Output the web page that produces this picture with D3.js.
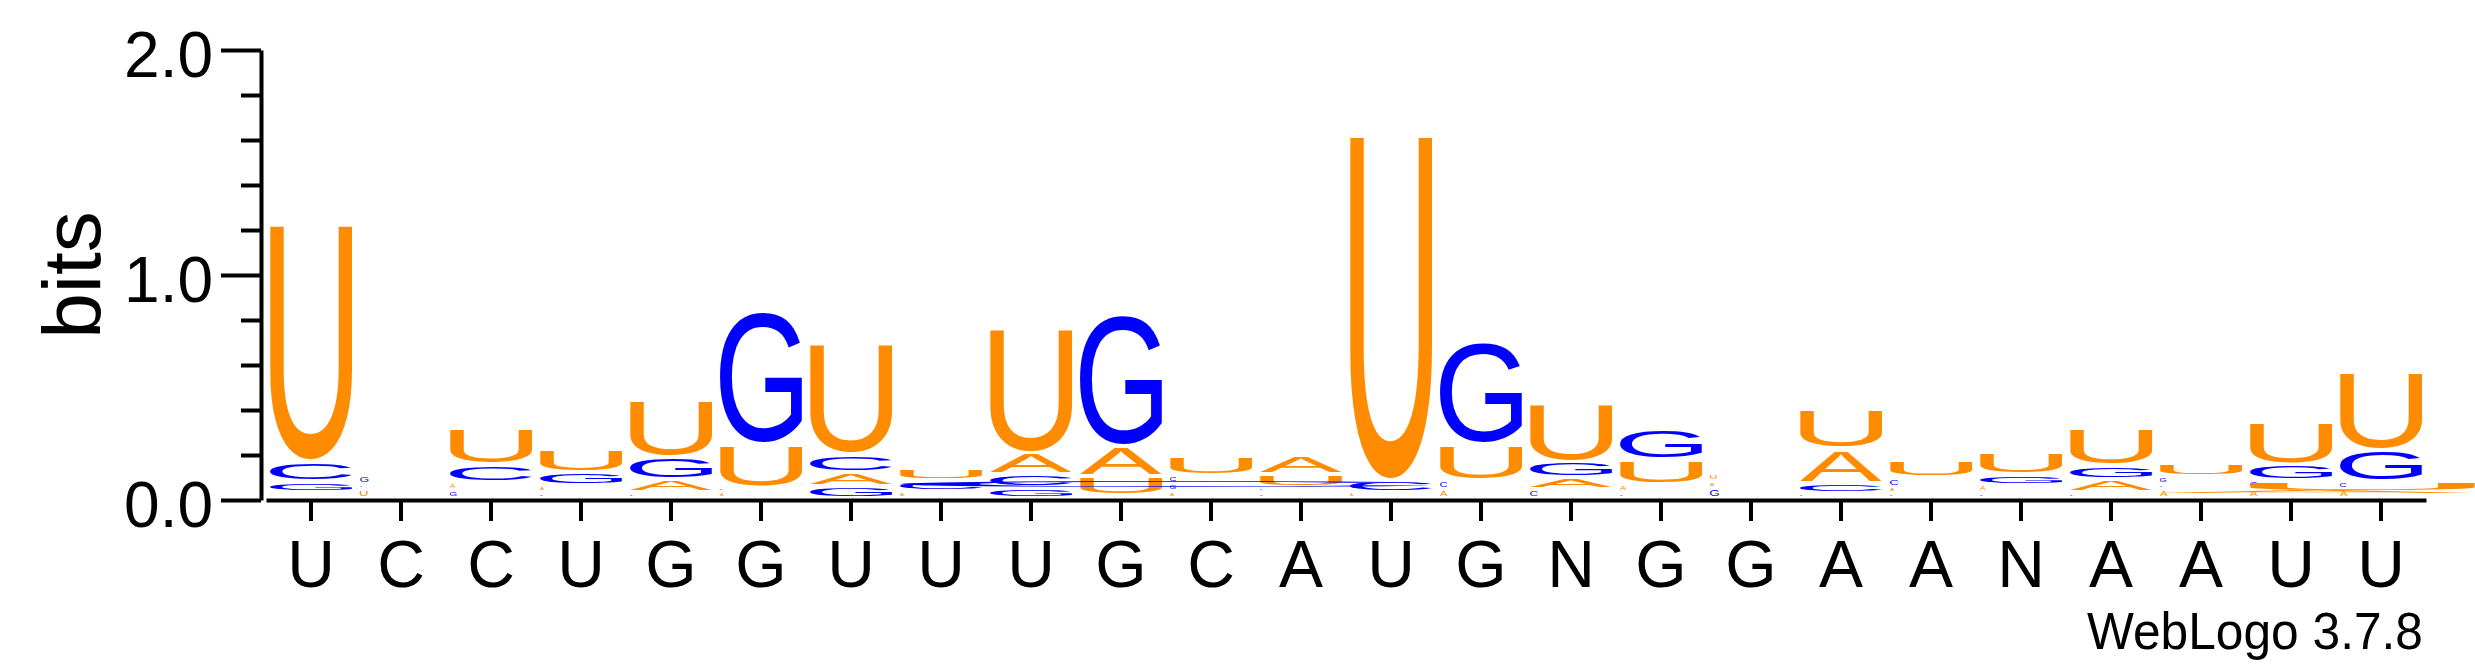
<!DOCTYPE html>
<html>
<head>
<meta charset="utf-8">
<script src="https://cdn.jsdelivr.net/npm/d3@7"></script>
<style>
  body { margin: 0; background: #fff; }
  text { font-family: "Liberation Sans", Arial, Helvetica, sans-serif; }
</style>
</head>
<body>
<div id="chart"></div>
<script>
// Consensus letters under each column
const consensus = ["U","C","C","U","G","G","U","U","U","G","C","A","U","G","N","G","G","A","A","N","A","A","U","U"];

// Letters in each stack, bottom to top
const stackLetters = [
  "AGCU", "UCG", "GACU", "CAGU", "CAGU", "ACUG", "GACU", "ACU",
  "GCAU", "CUAG", "AGCU", "GCUA", "ACU", "ACUG", "CAGU", "CAUG",
  "GAU", "GCAU", "GACU", "CAGU", "CAGU", "ACGU", "ACGU", "ACGU"
];

// Height of each letter in bits, same order as stackLetters
const stackBits = [
  [0.025, 0.049, 0.089, 1.055],
  [0.040, 0.022, 0.042],
  [0.037, 0.033, 0.078, 0.163],
  [0.025, 0.030, 0.059, 0.105],
  [0.025, 0.059, 0.098, 0.252],
  [0.028, 0.020, 0.193, 0.592],
  [0.052, 0.064, 0.076, 0.493],
  [0.030, 0.049, 0.054],
  [0.048, 0.059, 0.096, 0.554],
  [0.012, 0.087, 0.131, 0.588],
  [0.030, 0.035, 0.036, 0.087],
  [0.025, 0.024, 0.055, 0.084],
  [0.027, 0.052, 1.534],
  [0.040, 0.039, 0.158, 0.458],
  [0.040, 0.052, 0.071, 0.259],
  [0.025, 0.036, 0.109, 0.134],
  [0.044, 0.030, 0.037],
  [0.020, 0.047, 0.151, 0.172],
  [0.020, 0.030, 0.043, 0.077],
  [0.025, 0.034, 0.048, 0.097],
  [0.025, 0.059, 0.060, 0.167],
  [0.040, 0.020, 0.036, 0.060],
  [0.040, 0.039, 0.069, 0.193],
  [0.040, 0.036, 0.139, 0.344]
];

// Over-stretched tiny glyphs that run across several columns
const streakLetters = ["C", "A", "U"];
const streakFrom = [7.04, 21.0, 22.04];   // column units
const streakTo = [12.94, 24.54, 24.54];
const streakLow = [0.058, 0.031, 0.044];  // bits
const streakHigh = [0.084, 0.044, 0.076];

const yMajor = [0, 1, 2];
const yMinor = [0.2, 0.4, 0.6, 0.8, 1.2, 1.4, 1.6, 1.8];

const colors = { A: "#ff8c00", U: "#ff8c00", C: "#0000ff", G: "#0000ff" };

const W = 2475, H = 667;
const FONT = '"Liberation Sans", Arial, Helvetica, sans-serif';

const svg = d3.select("#chart")
  .append("svg")
  .attr("width", W)
  .attr("height", H);

svg.append("rect").attr("width", W).attr("height", H).attr("fill", "#fff");

// scales
const x = d3.scaleBand()
  .domain(d3.range(consensus.length))
  .range([266, 2426])
  .padding(0);

const y = d3.scaleLinear()
  .domain([0, 2])
  .range([500, 50]);

const colW = x.bandwidth();

// ink box of each letter, measured on a canvas with the same font
const ctx = document.createElement("canvas").getContext("2d");
ctx.font = "200px " + FONT;
const inkCache = {};
function ink(ch) {
  if (!inkCache[ch]) {
    const m = ctx.measureText(ch);
    inkCache[ch] = { l: m.actualBoundingBoxLeft, r: m.actualBoundingBoxRight,
                     a: m.actualBoundingBoxAscent, d: m.actualBoundingBoxDescent };
  }
  return inkCache[ch];
}

const logo = svg.append("g").attr("class", "logo");

// stretch a letter so its ink fills the box
function glyph(ch, x0, x1, yTop, yBot) {
  const m = ink(ch);
  const sx = (x1 - x0) / (m.l + m.r);
  const sy = (yBot - yTop) / (m.a + m.d);
  logo.append("text")
    .attr("transform", `translate(${x0},${yTop}) scale(${sx},${sy}) translate(${m.l},${m.a})`)
    .attr("font-size", 200)
    .attr("fill", colors[ch])
    .text(ch);
}

const gap = 4;    // white space under each letter
const inset = 4;  // white space at each side of a column

stackBits.forEach((bits, i) => {
  let base = 0;
  const left = x(i);
  bits.forEach((b, k) => {
    const ch = stackLetters[i][k];
    const yTop = y(base + b);
    const yBot = y(base) - gap;
    const h = yBot - yTop;
    if (h > 6.5) {
      glyph(ch, left + inset, left + colW - inset, yTop, yBot);
    } else if (h > 0.4) {
      // tiny letters come out small at the left of the column
      glyph(ch, left + inset, left + inset + Math.max(2, h * 1.5), yTop, yBot);
    }
    base += b;
  });
});

streakLetters.forEach((ch, i) => {
  const x0 = x.range()[0] + streakFrom[i] * colW;
  const x1 = x.range()[0] + streakTo[i] * colW;
  glyph(ch, x0, x1, y(streakHigh[i]), y(streakLow[i]));
});

// y axis
const yAxis = svg.append("g")
  .attr("class", "y-axis")
  .attr("transform", "translate(261,0)")
  .call(d3.axisLeft(y).tickValues(yMajor).tickFormat(d3.format(".1f"))
    .tickSize(40).tickSizeOuter(0).tickPadding(8));

svg.append("g")
  .attr("class", "y-minor")
  .attr("transform", "translate(261,0)")
  .call(d3.axisLeft(y).tickValues(yMinor).tickFormat("").tickSize(20).tickSizeOuter(0))
  .select(".domain").remove();

// x axis
const xAxis = svg.append("g")
  .attr("class", "x-axis")
  .attr("transform", "translate(0,500)")
  .call(d3.axisBottom(x).tickFormat(i => consensus[i])
    .tickSize(21).tickSizeOuter(0).tickPadding(19));

svg.selectAll(".domain, .tick line")
  .attr("stroke", "#000")
  .attr("stroke-width", 4);

yAxis.selectAll(".tick text")
  .attr("font-size", 64)
  .attr("font-family", FONT)
  .attr("fill", "#000")
  .attr("dy", "0.41em");

xAxis.selectAll(".tick text")
  .attr("font-size", 66)
  .attr("font-family", FONT)
  .attr("fill", "#000");

svg.append("text")
  .attr("transform", "translate(100,275) rotate(-90)")
  .attr("text-anchor", "middle")
  .attr("font-size", 82)
  .attr("fill", "#000")
  .text("bits");

svg.append("text")
  .attr("x", 2087)
  .attr("y", 649)
  .attr("font-size", 52)
  .attr("textLength", 336)
  .attr("lengthAdjust", "spacingAndGlyphs")
  .attr("fill", "#000")
  .text("WebLogo 3.7.8");
</script>
</body>
</html>
